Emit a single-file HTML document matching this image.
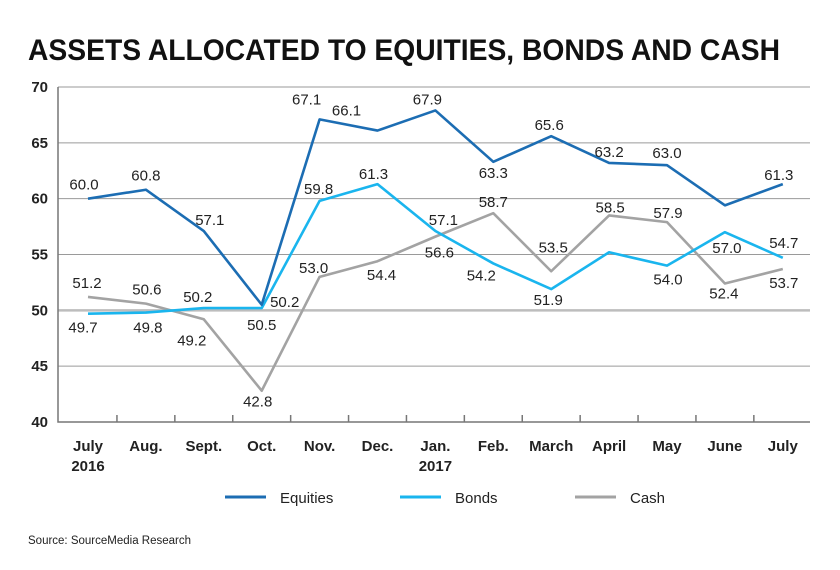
<!DOCTYPE html>
<html><head><meta charset="utf-8"><style>
body{margin:0;background:#fff;}
svg{display:block;font-family:"Liberation Sans",sans-serif;}
</style></head><body>
<svg id="chart" width="840" height="570" viewBox="0 0 840 570">
<text x="28" y="60" font-size="30" font-weight="bold" fill="#111" textLength="752" lengthAdjust="spacingAndGlyphs">ASSETS ALLOCATED TO EQUITIES, BONDS AND CASH</text>
<g id="grid"></g><g id="axes"></g><g id="series"></g><g id="labels"></g>
<g>
<g><line x1="225" y1="497" x2="266" y2="497" stroke="#1c6db3" stroke-width="3"/><text x="280" y="503" font-size="15" fill="#222">Equities</text></g>
<g><line x1="400" y1="497" x2="441" y2="497" stroke="#1ab5ee" stroke-width="3"/><text x="455" y="503" font-size="15" fill="#222">Bonds</text></g>
<g><line x1="575" y1="497" x2="616" y2="497" stroke="#a3a3a3" stroke-width="3"/><text x="630" y="503" font-size="15" fill="#222">Cash</text></g>
</g>
<text x="28" y="544" font-size="11.5" fill="#222">Source: SourceMedia Research</text>
</svg>
<script>
const categories=["July","Aug.","Sept.","Oct.","Nov.","Dec.","Jan.","Feb.","March","April","May","June","July"];
const subLabels=["2016","","","","","","2017","","","","","",""];
const yTicks=[40,45,50,55,60,65,70];
const equities=[60.0,60.8,57.1,50.5,67.1,66.1,67.9,63.3,65.6,63.2,63.0,59.4,61.3];
const bonds=[49.7,49.8,50.2,50.2,59.8,61.3,57.1,54.2,51.9,55.2,54.0,57.0,54.7];
const cash=[51.2,50.6,49.2,42.8,53.0,54.4,56.6,58.7,53.5,58.5,57.9,52.4,53.7];
const equitiesShown=[1,1,1,1,1,1,1,1,1,1,1,0,1];
const bondsShown=[1,1,1,1,1,1,1,1,1,0,1,1,1];
const cashShown=[1,1,1,1,1,1,1,1,1,1,1,1,1];
// label offsets (styling)
const eqOff=[[-4,-14],[0,-14],[6,-11],[0,20],[-13,-20],[-31,-20],[-8,-11],[0,11],[-2,-11],[0,-11],[0,-12],[0,0],[-4,-9]];
const bdOff=[[-5,14],[2,15],[-6,-11],[23,-6],[-1,-12],[-4,-10],[8,-11],[-12,12],[-3,11],[0,0],[1,14],[2,16],[1,-15]];
const chOff=[[-1,-14],[1,-14],[-12,21],[-4,11],[-6,-9],[4,14],[4,16],[0,-11],[2,-24],[1,-8],[1,-9],[-1,10],[1,14]];
const NS="http://www.w3.org/2000/svg";
const x0=88,xStep=57.9,yTop=87,yBot=422,vMin=40,vMax=70;
const xS=i=>x0+i*xStep;
const yS=v=>yBot-(v-vMin)/(vMax-vMin)*(yBot-yTop);
function mk(tag,attrs,parent){const e=document.createElementNS(NS,tag);for(const k in attrs)e.setAttribute(k,attrs[k]);parent.appendChild(e);return e;}
const grid=document.getElementById('grid'),axes=document.getElementById('axes'),ser=document.getElementById('series'),lab=document.getElementById('labels');
yTicks.forEach(t=>{
 if(t>vMin){const l=mk('line',{x1:58,x2:810,y1:yS(t),y2:yS(t),stroke:t===50?'#bdbdbd':'#9a9a9a','stroke-width':t===50?2.5:1},grid);
 
 }
 const tx=mk('text',{x:48,y:yS(t)+5,'font-size':15,'font-weight':'bold','text-anchor':'end',fill:'#222'},axes);tx.textContent=t;
 
 
});
const ax=mk('path',{d:`M58 ${yTop} V${yBot} H810`,fill:'none',stroke:'#777','stroke-width':1.5},axes);


categories.forEach((c,i)=>{
 if(i<categories.length-1){const tk=mk('line',{x1:xS(i)+xStep/2,x2:xS(i)+xStep/2,y1:yBot-7,y2:yBot,stroke:'#777','stroke-width':1.5},axes);
 
 }
 const t=mk('text',{x:xS(i),y:451,'font-size':15,'font-weight':'bold','text-anchor':'middle',fill:'#222'},axes);t.textContent=c;
 
 
 if(subLabels[i]){const s=mk('text',{x:xS(i),y:471,'font-size':15,'font-weight':'bold','text-anchor':'middle',fill:'#222'},axes);s.textContent=subLabels[i];
 
 }
});
function draw(vals,shown,off,color,name){
 const p=mk('polyline',{points:vals.map((v,i)=>xS(i)+','+yS(v)).join(' '),fill:'none',stroke:color,'stroke-width':2.6,'stroke-linejoin':'round'},ser);
 
 
 vals.forEach((v,i)=>{if(!shown[i])return;
  const t=mk('text',{x:xS(i)+off[i][0],y:yS(v)+off[i][1]+5,'font-size':15,'text-anchor':'middle',fill:'#222'},lab);
  t.textContent=v.toFixed(1);
  
  });
}
draw(cash,cashShown,chOff,'#a3a3a3','cash');
draw(bonds,bondsShown,bdOff,'#1ab5ee','bonds');
draw(equities,equitiesShown,eqOff,'#1c6db3','equities');
</script>
</body></html>
